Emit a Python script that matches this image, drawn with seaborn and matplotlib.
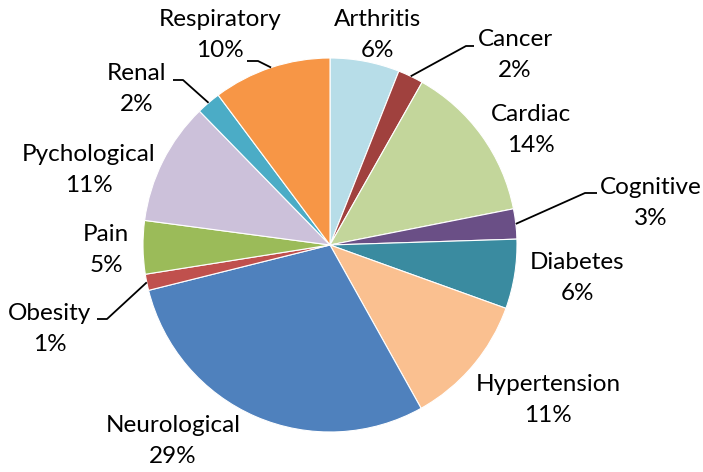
import numpy as np
import matplotlib
matplotlib.use('Agg')
import matplotlib.pyplot as plt
import seaborn as sns

# Data (percent shares, clockwise from 12 o'clock)
categories = ['Arthritis', 'Cancer', 'Cardiac', 'Cognitive', 'Diabetes', 'Hypertension',
              'Neurological', 'Obesity', 'Pain', 'Pychological', 'Renal', 'Respiratory']
shares = [6.0, 2.2, 13.7, 2.6, 6.0, 11.4, 29.2, 1.4, 4.6, 10.6, 2.1, 10.2]
colors = ['#B7DDE8', '#A0413E', '#C3D69B', '#6A4F86', '#3A8BA0', '#FAC090',
          '#4F81BD', '#C0504D', '#9BBB59', '#CCC1DA', '#4BACC6', '#F79646']

# Layout: pie centre / radius in pixels, label block centres in pixels
CX, CY, R = 330, 245, 187
W, H = 703, 472
label_pos = {
    'Arthritis': (378, 35), 'Cancer': (515, 55), 'Cardiac': (531, 130),
    'Cognitive': (651, 203), 'Diabetes': (577, 278), 'Hypertension': (548, 400),
    'Neurological': (173, 441), 'Obesity': (50, 329), 'Pain': (106, 250),
    'Pychological': (89, 170), 'Renal': (137, 89), 'Respiratory': (220, 35),
}
# leader lines: elbow point and end point (pixels)
leaders = {
    'Cancer': ((466, 46), (474, 46)),
    'Cognitive': ((585, 193), (597, 193)),
    'Obesity': ((107, 319), (97, 319)),
    'Renal': ((183, 80), (173, 80)),
    'Respiratory': ((258, 61), (247, 61)),
}


def px(x, y):
    return (x - CX) / R, (CY - y) / R


sns.set_theme(style='white')
plt.rcParams['font.family'] = ['Lato', 'DejaVu Sans']

fig = plt.figure(figsize=(W / 100, H / 100), dpi=100)
ax = fig.add_axes([0, 0, 1, 1])
wedges, _ = ax.pie(shares, colors=colors, startangle=90, counterclock=False,
                   radius=1, wedgeprops=dict(edgecolor='white', linewidth=0.8))
ax.set_xlim(-CX / R, (W - CX) / R)
ax.set_ylim(-(H - CY) / R, CY / R)
ax.axis('off')

total = sum(shares)
for name, val, w in zip(categories, shares, wedges):
    lx, ly = px(*label_pos[name])
    ax.text(lx, ly, f'{name}\n{round(val / total * 100)}%', ha='center', va='center',
            multialignment='center', fontsize=17.5, linespacing=1.55, color='black')
    if name in leaders:
        mid = np.deg2rad((w.theta1 + w.theta2) / 2)
        sx, sy = np.cos(mid), np.sin(mid)
        (ex, ey), (tx, ty) = leaders[name]
        ex, ey = px(ex, ey)
        tx, ty = px(tx, ty)
        ax.plot([sx, ex, tx], [sy, ey, ty], color='black', lw=1.3, solid_capstyle='butt')

fig.savefig('out.png', dpi=100)
